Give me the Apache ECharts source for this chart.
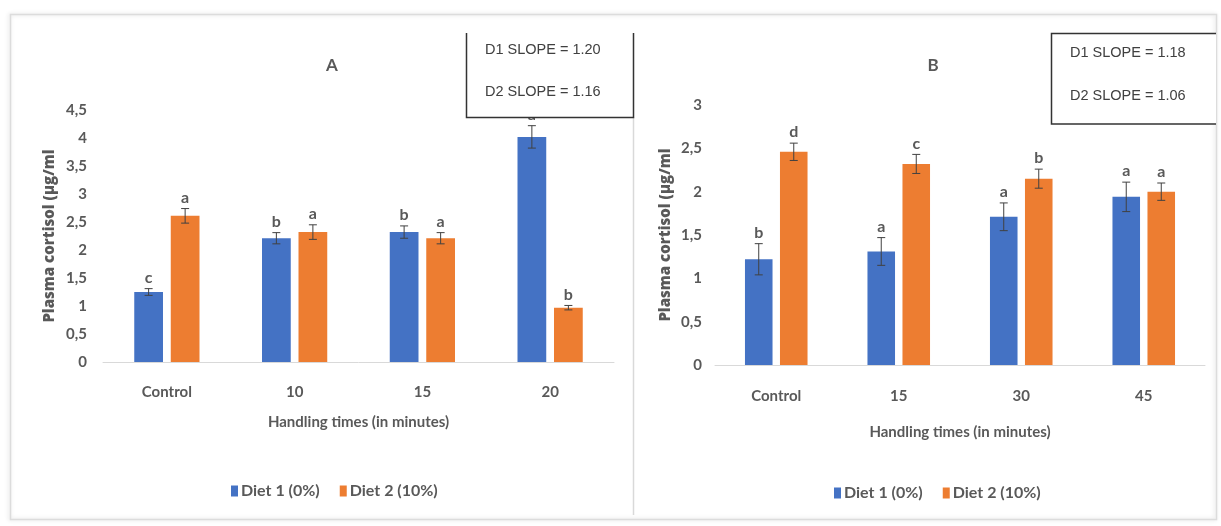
<!DOCTYPE html>
<html>
<head>
<meta charset="utf-8">
<script src="https://cdn.jsdelivr.net/npm/echarts@6/dist/echarts.min.js"></script>
<style>
html,body{margin:0;padding:0;background:#fff;}
#c{width:1221px;height:526px;}
</style>
</head>
<body>
<div id="c"></div>
<script>
// ---- Data ----
var catsA = ['Control', '10', '15', '20'];
var diet1A = [1.25, 2.21, 2.32, 4.02];
var diet2A = [2.61, 2.32, 2.21, 0.97];
var err1A = [0.06, 0.10, 0.11, 0.20];
var err2A = [0.13, 0.13, 0.10, 0.04];
var let1A = ['c', 'b', 'b', 'a'];
var let2A = ['a', 'a', 'a', 'b'];

var catsB = ['Control', '15', '30', '45'];
var diet1B = [1.22, 1.31, 1.71, 1.94];
var diet2B = [2.46, 2.32, 2.15, 2.00];
var err1B = [0.18, 0.16, 0.16, 0.17];
var err2B = [0.10, 0.11, 0.11, 0.10];
var let1B = ['b', 'a', 'a', 'a'];
var let2B = ['d', 'c', 'b', 'a'];

var seriesNames = ['Diet 1 (0%)', 'Diet 2 (10%)'];
var slopeA = ['D1 SLOPE = 1.20', 'D2 SLOPE = 1.16'];
var slopeB = ['D1 SLOPE = 1.18', 'D2 SLOPE = 1.06'];

var BLUE = '#4472C4', ORANGE = '#ED7D31', GREY = '#595959';
var FONT = 'Lato, "Open Sans", sans-serif';

function fmt(v){ return String(v).replace('.', ','); }

function errSeries(gi, vals, errs, letters, barIndex){
  var data = vals.map(function(v,i){ return [i, v, errs[i]]; });
  return {
    type: 'custom',
    xAxisIndex: gi, yAxisIndex: gi,
    z: 5,
    silent: true,
    encode: {x: 0, y: 1},
    data: data,
    renderItem: function(params, api){
      var idx = api.value(0);
      var v = api.value(1), e = api.value(2);
      var base = api.coord([idx, 0]);
      var size = api.size([1, 0]);
      var catW = size[0];
      var barW = catW * 0.225;
      var gap = barW * 0.27;
      var cx = base[0] + (barIndex === 0 ? -(gap/2 + barW/2) : (gap/2 + barW/2));
      var top = api.coord([idx, v + e])[1];
      var bot = api.coord([idx, v - e])[1];
      var cap = 4;
      var st = {stroke: '#404040', lineWidth: 1};
      return {
        type: 'group',
        children: [
          {type:'line', shape:{x1:cx, y1:top, x2:cx, y2:bot}, style:st},
          {type:'line', shape:{x1:cx-cap, y1:top, x2:cx+cap, y2:top}, style:st},
          {type:'line', shape:{x1:cx-cap, y1:bot, x2:cx+cap, y2:bot}, style:st},
          {type:'text', x: cx, y: top - 3, style:{text: letters[idx], fill: GREY, font: 'bold 16px ' + FONT, textAlign:'center', textVerticalAlign:'bottom'}}
        ]
      };
    }
  };
}

function barSeries(gi, name, vals, color){
  return {
    type: 'bar', name: name,
    xAxisIndex: gi, yAxisIndex: gi,
    data: vals,
    barWidth: '22.5%',
    barGap: '27%',
    itemStyle: {color: color},
    z: 2
  };
}

var axisLabelStyle = {color: GREY, fontFamily: FONT, fontSize: 15, fontWeight: 'bold'};
var nameStyleX = {color: GREY, fontFamily: FONT, fontSize: 15, fontWeight: 'bold'};
var nameStyleY = {color: GREY, fontFamily: '"Open Sans", Lato, sans-serif', fontSize: 15, fontWeight: 800};
var legendText = {color: GREY, fontFamily: FONT, fontSize: 16, fontWeight: 'bold', padding: [0,0,0,-2]};

var chart = echarts.init(document.getElementById('c'), null, {renderer: 'canvas'});
chart.setOption({
  backgroundColor: '#fff',
  animation: false,
  title: [
    {text: 'A', left: 327, top: 52, textAlign: 'center', textStyle: {color: GREY, fontFamily: FONT, fontSize: 17, fontWeight: 'bold'}},
    {text: 'B', left: 928, top: 52, textAlign: 'center', textStyle: {color: GREY, fontFamily: FONT, fontSize: 17, fontWeight: 'bold'}}
  ],
  legend: [
    {data: seriesNames, left: 226, top: 478, itemWidth: 7, itemHeight: 11, itemGap: 20,
     icon: 'rect', textStyle: legendText},
    {data: seriesNames, left: 829, top: 480, itemWidth: 7, itemHeight: 11, itemGap: 20,
     icon: 'rect', textStyle: legendText}
  ],
  grid: [
    {left: 103, top: 110, width: 511, height: 252},
    {left: 715, top: 105, width: 490, height: 260}
  ],
  xAxis: [
    {type: 'category', gridIndex: 0, data: catsA,
     axisLine: {lineStyle: {color: '#d9d9d9', width: 1}}, axisTick: {show: false},
     axisLabel: Object.assign({margin: 23}, axisLabelStyle),
     name: 'Handling times (in minutes)', nameLocation: 'middle', nameGap: 53,
     nameTextStyle: nameStyleX},
    {type: 'category', gridIndex: 1, data: catsB,
     axisLine: {lineStyle: {color: '#d9d9d9', width: 1}}, axisTick: {show: false},
     axisLabel: Object.assign({margin: 24}, axisLabelStyle),
     name: 'Handling times (in minutes)', nameLocation: 'middle', nameGap: 60,
     nameTextStyle: nameStyleX}
  ],
  yAxis: [
    {type: 'value', gridIndex: 0, min: 0, max: 4.5, interval: 0.5,
     axisLine: {show: false}, axisTick: {show: false}, splitLine: {show: false},
     axisLabel: Object.assign({margin: 16, formatter: fmt}, axisLabelStyle),
     name: 'Plasma cortisol (µg/ml', nameLocation: 'middle', nameGap: 46,
     nameTextStyle: nameStyleY},
    {type: 'value', gridIndex: 1, min: 0, max: 3, interval: 0.5,
     axisLine: {show: false}, axisTick: {show: false}, splitLine: {show: false},
     axisLabel: Object.assign({margin: 13, formatter: fmt}, axisLabelStyle),
     name: 'Plasma cortisol (µg/ml', nameLocation: 'middle', nameGap: 42,
     nameTextStyle: nameStyleY}
  ],
  series: [
    barSeries(0, seriesNames[0], diet1A, BLUE),
    barSeries(0, seriesNames[1], diet2A, ORANGE),
    barSeries(1, seriesNames[0], diet1B, BLUE),
    barSeries(1, seriesNames[1], diet2B, ORANGE),
    errSeries(0, diet1A, err1A, let1A, 0),
    errSeries(0, diet2A, err2A, let2A, 1),
    errSeries(1, diet1B, err1B, let1B, 0),
    errSeries(1, diet2B, err2B, let2B, 1)
  ],
  graphic: [
    // outer frame
    {type: 'rect', z: 0, shape: {x: 10.5, y: 14.5, width: 1206, height: 505},
     style: {fill: 'none', stroke: '#dcdcdc', lineWidth: 1.5, shadowBlur: 4, shadowColor: 'rgba(0,0,0,0.15)', shadowOffsetX: -1}},
    // divider
    {type: 'line', z: 0, shape: {x1: 633.5, y1: 117, x2: 633.5, y2: 515}, style: {stroke: '#d9d9d9', lineWidth: 1.5}},
    // slope box A (top open)
    {type: 'rect', z: 50, shape: {x: 466, y: 33, width: 167, height: 84}, style: {fill: '#fff', stroke: null}},
    {type: 'polyline', z: 51, shape: {points: [[466.5, 33], [466.5, 117.5], [633.5, 117.5], [633.5, 33]]}, style: {fill: null, stroke: '#333', lineWidth: 1.5}},
    {type: 'text', z: 52, x: 485, y: 50, style: {text: slopeA[0], fill: '#404040', font: '14.5px "Liberation Sans", Arial, sans-serif', textVerticalAlign: 'middle'}},
    {type: 'text', z: 52, x: 485, y: 92, style: {text: slopeA[1], fill: '#404040', font: '14.5px "Liberation Sans", Arial, sans-serif', textVerticalAlign: 'middle'}},
    // slope box B (right open)
    {type: 'rect', z: 50, shape: {x: 1051, y: 33, width: 165, height: 91}, style: {fill: '#fff', stroke: null}},
    {type: 'polyline', z: 51, shape: {points: [[1216, 33.5], [1051.5, 33.5], [1051.5, 124], [1216, 124]]}, style: {fill: null, stroke: '#333', lineWidth: 1.5}},
    {type: 'text', z: 52, x: 1070, y: 53, style: {text: slopeB[0], fill: '#404040', font: '14.5px "Liberation Sans", Arial, sans-serif', textVerticalAlign: 'middle'}},
    {type: 'text', z: 52, x: 1070, y: 96, style: {text: slopeB[1], fill: '#404040', font: '14.5px "Liberation Sans", Arial, sans-serif', textVerticalAlign: 'middle'}}
  ]
});
</script>
</body>
</html>
